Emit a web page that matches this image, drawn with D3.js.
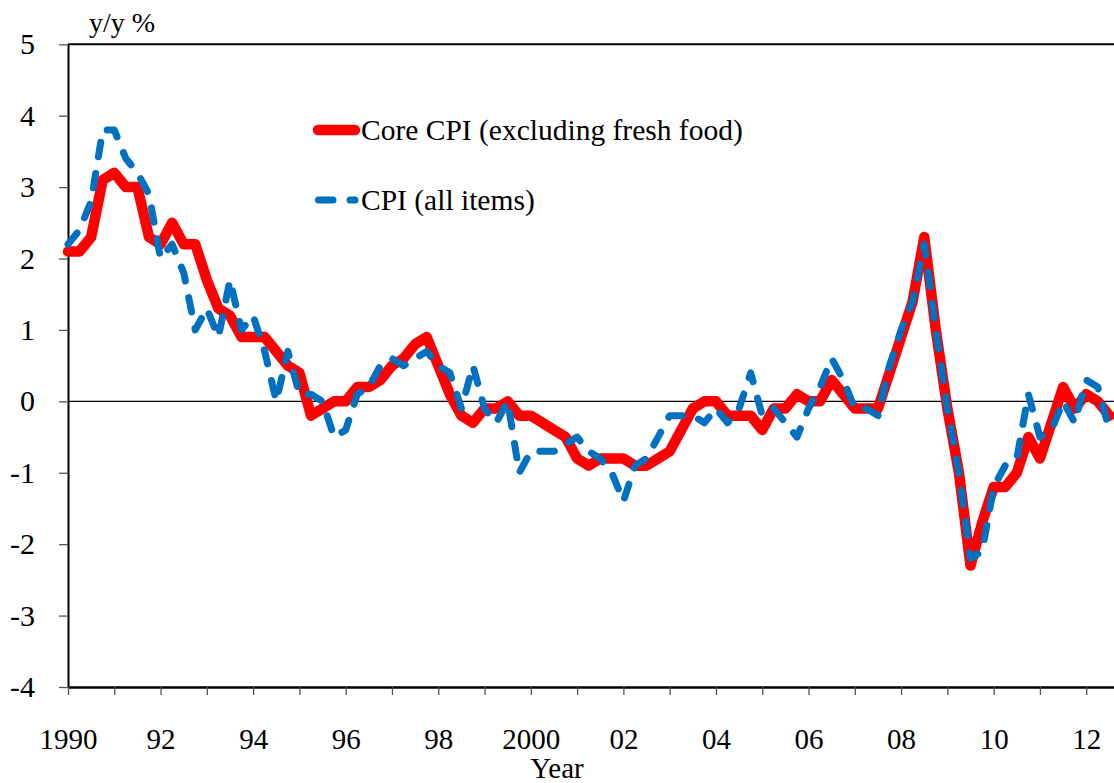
<!DOCTYPE html>
<html>
<head>
<meta charset="utf-8">
<script src="https://cdn.jsdelivr.net/npm/d3@7"></script>
<style>
  html, body { margin: 0; padding: 0; background: #fff; }
  svg { display: block; }
  text { font-family: "Liberation Serif", "Times New Roman", serif; fill: #000; }
</style>
</head>
<body>
<svg id="chart" width="1114" height="783"></svg>
<script>
/* quarterly y/y %, 1990Q1 .. 2012Q3 */
const startYear = 1990;
const coreCpi = [
  2.1, 2.1, 2.3, 3.1,   3.2, 3.0, 3.0, 2.3,   2.2, 2.5, 2.2, 2.2,
  1.7, 1.3, 1.2, 0.9,   0.9, 0.9, 0.7, 0.5,   0.4, -0.2, -0.1, 0.0,
  0.0, 0.2, 0.2, 0.3,   0.5, 0.6, 0.8, 0.9,   0.5, 0.1, -0.2, -0.3,
  -0.1, -0.1, 0.0, -0.2,   -0.2, -0.3, -0.4, -0.5,   -0.8, -0.9, -0.8, -0.8,
  -0.8, -0.9, -0.9, -0.8,   -0.7, -0.4, -0.1, 0.0,   0.0, -0.2, -0.2, -0.2,
  -0.4, -0.1, -0.1, 0.1,   0.0, 0.0, 0.3, 0.1,   -0.1, -0.1, -0.1, 0.4,
  0.9, 1.4, 2.3, 1.0,   -0.1, -1.0, -2.3, -1.7,   -1.2, -1.2, -1.0, -0.5,
  -0.8, -0.3, 0.2, -0.1,   0.1, 0.0, -0.2
];
const allCpi = [
  2.2, 2.4, 2.8, 3.8,   3.8, 3.4, 3.2, 2.9,   2.0, 2.2, 1.8, 1.0,
  1.3, 0.9, 1.7, 1.0,   1.2, 0.7, 0.0, 0.7,   0.1, 0.1, 0.0, -0.5,
  -0.4, 0.1, 0.2, 0.5,   0.6, 0.5, 0.6, 0.7,   0.5, 0.4, -0.1, 0.5,
  -0.1, -0.3, 0.0, -1.0,   -0.7, -0.7, -0.7, -0.6,   -0.5, -0.7, -0.8, -1.0,
  -1.4, -0.9, -0.8, -0.5,   -0.2, -0.2, -0.2, -0.3,   -0.1, -0.3, -0.1, 0.4,
  -0.2, -0.1, -0.3, -0.5,   -0.1, 0.2, 0.6, 0.3,   -0.1, -0.1, -0.2, 0.5,
  1.0, 1.4, 2.2, 1.0,   -0.1, -1.0, -2.2, -2.1,   -1.2, -0.9, -0.8, 0.1,
  -0.5, -0.4, 0.0, -0.3,   0.3, 0.2, -0.4
];
const yTicks = [-4, -3, -2, -1, 0, 1, 2, 3, 4, 5];
const yearTicks = d3.range(1990, 2013);
const legendNames = ["Core CPI (excluding fresh food)", "CPI (all items)"];

const svg = d3.select("#chart");

const x = d3.scaleLinear().domain([1990, 2012.6]).range([68, 1114]);
const y = d3.scaleLinear().domain([-4, 5]).range([687, 44.3]);

/* top frame line */
svg.append("line")
  .attr("x1", 68).attr("x2", 1114)
  .attr("y1", y(5)).attr("y2", y(5))
  .attr("stroke", "#000").attr("stroke-width", 2);

/* zero line */
svg.append("line")
  .attr("x1", 68).attr("x2", 1114)
  .attr("y1", y(0)).attr("y2", y(0))
  .attr("stroke", "#000").attr("stroke-width", 1.3);

/* y axis */
const yAxis = svg.append("g")
  .attr("transform", "translate(68,0)")
  .call(d3.axisLeft(y).tickValues(yTicks).tickSize(9).tickSizeOuter(0).tickPadding(24).tickFormat(d => d));
yAxis.select(".domain").attr("stroke", "#000").attr("stroke-width", 2);
yAxis.selectAll(".tick line").attr("stroke", "#555").attr("stroke-width", 1.3);
yAxis.selectAll("text").attr("font-size", 30).style("font-family", "Liberation Serif");

/* x axis */
const xAxis = svg.append("g")
  .attr("transform", `translate(0,${y(-4)})`)
  .call(d3.axisBottom(x).tickValues(yearTicks).tickSize(8).tickSizeOuter(0).tickPadding(33)
    .tickFormat(d => d % 2 ? "" : (d % 100 === 90 || d === 2000 ? String(d) : String(d % 100).padStart(2, "0"))));
xAxis.select(".domain").attr("stroke", "#000").attr("stroke-width", 2.5);
xAxis.selectAll(".tick line").attr("stroke", "#555").attr("stroke-width", 1.3);
xAxis.selectAll("text").attr("font-size", 29).style("font-family", "Liberation Serif");

/* axis titles */
svg.append("text").attr("x", 89).attr("y", 32).attr("font-size", 28).text("y/y %");
svg.append("text").attr("x", 557).attr("y", 778).attr("font-size", 29)
  .attr("text-anchor", "middle").text("Year");

/* series */
const line = d3.line()
  .x((d, i) => x(startYear + i / 4))
  .y(d => y(d));

svg.append("path")
  .datum(coreCpi)
  .attr("d", line)
  .attr("fill", "none")
  .attr("stroke", "#ff0000")
  .attr("stroke-width", 10.5)
  .attr("stroke-linejoin", "round")
  .attr("stroke-linecap", "round");

svg.append("path")
  .datum(allCpi)
  .attr("d", line)
  .attr("fill", "none")
  .attr("stroke", "#0070c0")
  .attr("stroke-width", 7)
  .attr("stroke-dasharray", "14.5,17")
  .attr("stroke-linejoin", "round")
  .attr("stroke-linecap", "round");

/* legend */
const legend = svg.append("g");
legend.append("line")
  .attr("x1", 318).attr("x2", 355).attr("y1", 130).attr("y2", 130)
  .attr("stroke", "#ff0000").attr("stroke-width", 10.5).attr("stroke-linecap", "round");
legend.append("text").attr("x", 361).attr("y", 140).attr("font-size", 29.5).text(legendNames[0]);

legend.append("line")
  .attr("x1", 318.5).attr("x2", 355).attr("y1", 200).attr("y2", 200)
  .attr("stroke", "#0070c0").attr("stroke-width", 7)
  .attr("stroke-dasharray", "14.5,17").attr("stroke-linecap", "round");
legend.append("text").attr("x", 361).attr("y", 210).attr("font-size", 29.5).text(legendNames[1]);
</script>
</body>
</html>
